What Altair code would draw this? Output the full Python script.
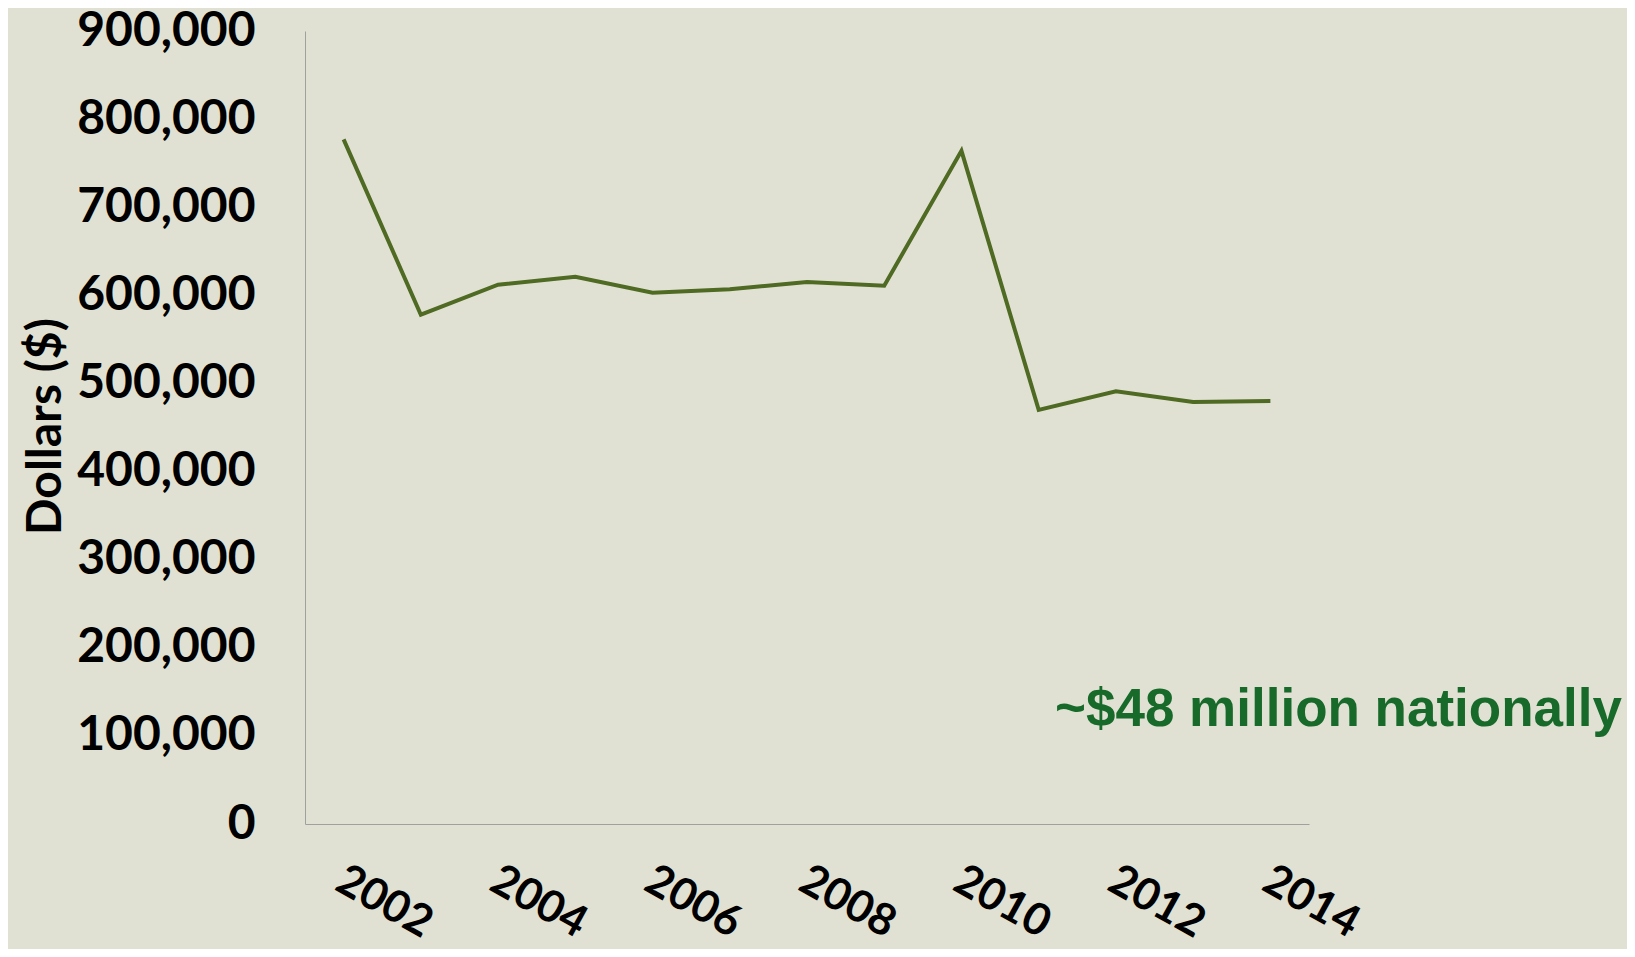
import altair as alt
import pandas as pd

years = [2002, 2003, 2004, 2005, 2006, 2007, 2008, 2009, 2010, 2011, 2012, 2013, 2014]
dollars = [777000, 578000, 612000, 621000, 603000, 607000, 615000, 611000, 764000, 470000, 491000, 479000, 480000]
y_ticks = [0, 100000, 200000, 300000, 400000, 500000, 600000, 700000, 800000, 900000]
annotation = ["~$48 million nationally"]

df = pd.DataFrame({"year": years, "dollars": dollars})

BG = "#E1E1D3"

line = alt.Chart(df).mark_line(color="#4F6A23", strokeWidth=4).encode(
    x=alt.X(
        "year:O",
        scale=alt.Scale(type="point", padding=0.5),
        axis=alt.Axis(
            title=None,
            labelExpr="toNumber(datum.value) % 2 == 0 ? datum.label : ''",
            labelAngle=29,
            labelAlign="left",
            labelBaseline="top",
            labelPadding=34,
            labelOffset=6,
            labelFont="Lato",
            labelFontWeight="bold",
            labelFontSize=44,
            labelColor="#000000",
            labelOverlap=False,
            labelBound=False,
            labelFlush=False,
            ticks=False,
            tickSize=0,
            domainColor="#A0A0A0",
            domainWidth=1,
            grid=False,
        ),
    ),
    y=alt.Y(
        "dollars:Q",
        scale=alt.Scale(domain=[0, 900000], nice=False, zero=True),
        axis=alt.Axis(
            title="Dollars ($)",
            values=y_ticks,
            format=",d",
            labelFont="Lato",
            labelFontWeight="bold",
            labelFontSize=48,
            labelColor="#000000",
            labelPadding=50,
            labelBaseline="middle",
            labelFlush=False,
            labelOverlap=False,
            ticks=False,
            tickSize=0,
            domainColor="#A0A0A0",
            domainWidth=1,
            grid=False,
            titleFont="Lato",
            titleFontWeight="bold",
            titleFontSize=48,
            titleColor="#000000",
            titleAngle=270,
            titleAlign="center",
            titleBaseline="alphabetic",
            titleX=-245,
            titleY=395,
        ),
    ),
)

note = alt.Chart(pd.DataFrame({"t": annotation})).mark_text(
    font="Liberation Sans",
    fontWeight="bold",
    fontSize=53,
    color="#176A2A",
    align="left",
    baseline="alphabetic",
).encode(
    text="t:N",
    x=alt.value(750),
    y=alt.value(695),
)

chart = alt.layer(line, note).properties(
    width=1004,
    height=793,
    autosize=alt.AutoSizeParams(type="none"),
    padding={"left": 297, "top": 23, "right": 318, "bottom": 125},
    background=BG,
).configure_view(stroke=None)

chart.save("out.html", embed_options={"renderer": "svg", "actions": False})
